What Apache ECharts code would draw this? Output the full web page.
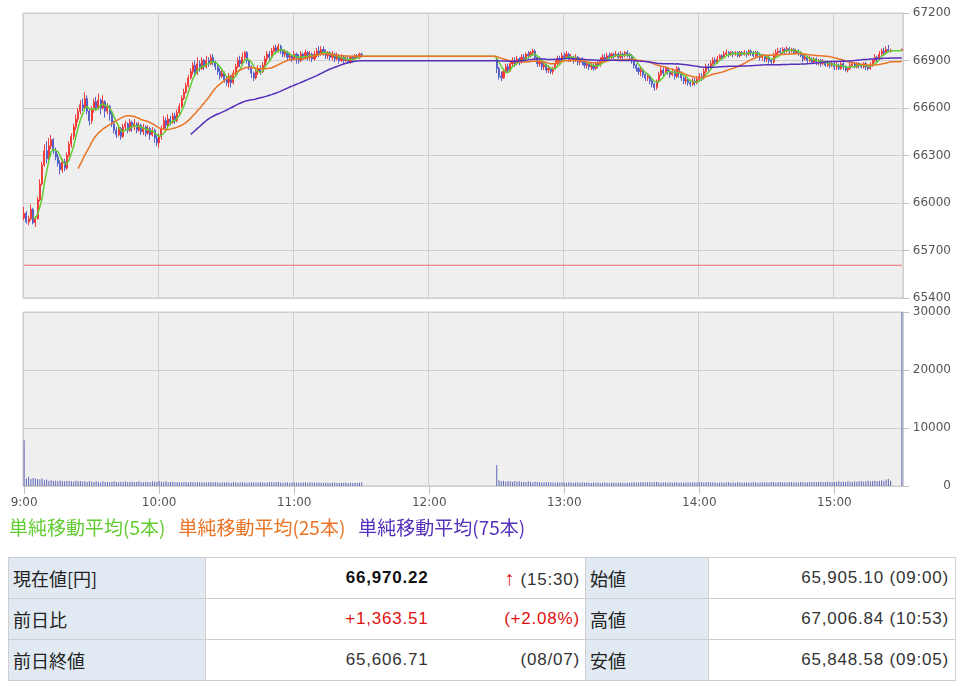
<!DOCTYPE html>
<html>
<head>
<meta charset="utf-8">
<script src="https://cdn.jsdelivr.net/npm/echarts@6/dist/echarts.min.js"></script>
<style>
html,body{margin:0;padding:0;background:#fff;width:960px;height:686px;overflow:hidden;}
#chart{position:absolute;left:0;top:0;width:960px;height:550px;}
#info{position:absolute;left:8px;top:557px;width:947px;border-collapse:collapse;table-layout:fixed;}
#info td{height:40px;border-top:1px solid #cfcfcf;border-bottom:1px solid #cfcfcf;padding:0;
  font-family:'Liberation Sans',Arial,sans-serif;font-size:17px;letter-spacing:0.8px;color:#333;white-space:nowrap;}
#info td.lb{background:#e1eaf2;font-family:'Noto Sans CJK JP',sans-serif;font-size:18px;letter-spacing:0;
  padding-left:4px;border-left:1px solid #cfcfcf;border-right:1px solid #cfcfcf;color:#222;}
#info td.v1{text-align:right;padding-right:12px;}
#info td.v2{text-align:right;padding-right:5px;}
#info td.v3{text-align:right;padding-right:6px;border-right:1px solid #cfcfcf;}
#info .red{color:#dd1111;}
#info .arrow{color:#dd1111;font-size:20px;}
#info b{color:#111;}
</style>
</head>
<body>
<div id="chart"></div>
<table id="info">
<colgroup><col style="width:197px"><col style="width:235px"><col style="width:145px"><col style="width:123px"><col style="width:247px"></colgroup>
<tbody id="infoBody"></tbody>
</table>
<script>
// ---- data ----
const dayStart = '9:00';
const pmStart = '12:30';
const closeTime = '15:30';
const prevClose = 65606.71;
const priceTicks = [65400, 67200, 300];
const volumeTicks = [0, 30000, 10000];
const maNames = ['単純移動平均(5本)', '単純移動平均(25本)', '単純移動平均(75本)'];
const maPeriods = [5, 25, 75];
const maColors = ['#63cc33', '#ea7424', '#5530bb'];

// [open, close, low, high] per minute, 9:00 - 11:30
const amCandles = [
[65905,65935,65890,65975],[65935,65880,65870,65950],[65880,65900,65860,65920],[65900,65960,65890,65990],[65960,65875,65865,65970],
[65875,65900,65848.58,65915],[65900,66020,65895,66040],[66020,66120,66010,66150],[66120,66240,66110,66260],[66240,66330,66230,66370],
[66330,66280,66250,66390],[66280,66360,66270,66410],[66360,66400,66340,66430],[66400,66330,66310,66410],[66330,66290,66270,66350],
[66290,66250,66230,66310],[66250,66210,66180,66270],[66210,66260,66190,66280],[66260,66220,66200,66280],[66220,66300,66210,66320],
[66300,66370,66290,66390],[66370,66420,66350,66440],[66420,66480,66400,66500],[66480,66530,66460,66560],[66530,66580,66510,66600],
[66580,66620,66560,66650],[66620,66600,66580,66660],[66600,66660,66590,66700],[66660,66580,66560,66680],[66580,66520,66490,66600],
[66520,66590,66500,66610],[66590,66640,66570,66660],[66640,66600,66580,66670],[66600,66650,66590,66690],[66650,66600,66560,66660],
[66600,66640,66590,66680],[66640,66580,66540,66650],[66580,66610,66560,66630],[66610,66560,66520,66620],[66560,66500,66480,66580],
[66500,66460,66440,66520],[66460,66430,66410,66480],[66430,66470,66420,66490],[66470,66420,66400,66480],[66420,66480,66410,66500],
[66480,66500,66460,66520],[66500,66460,66440,66510],[66460,66510,66450,66530],[66510,66480,66450,66520],[66480,66500,66460,66530],
[66500,66460,66440,66510],[66460,66490,66450,66510],[66490,66450,66430,66500],[66450,66480,66430,66500],[66480,66440,66420,66490],
[66440,66470,66430,66490],[66470,66430,66400,66480],[66430,66460,66420,66480],[66460,66410,66380,66470],[66410,66380,66360,66430],
[66380,66420,66350,66440],[66420,66470,66400,66490],[66470,66520,66460,66550],[66520,66490,66470,66540],[66490,66530,66480,66560],
[66530,66510,66490,66550],[66510,66550,66500,66570],[66550,66520,66500,66570],[66520,66570,66510,66590],[66570,66610,66560,66630],
[66610,66660,66600,66680],[66660,66700,66650,66720],[66700,66740,66690,66760],[66740,66790,66730,66810],[66790,66830,66780,66850],
[66830,66870,66810,66890],[66870,66820,66800,66900],[66820,66880,66810,66920],[66880,66850,66830,66900],[66850,66900,66840,66920],
[66900,66860,66840,66910],[66860,66900,66850,66930],[66900,66880,66860,66920],[66880,66920,66870,66940],[66920,66890,66870,66940],
[66890,66860,66840,66900],[66860,66830,66810,66880],[66830,66800,66780,66850],[66800,66820,66790,66850],[66820,66780,66760,66830],
[66780,66760,66740,66800],[66760,66800,66730,66820],[66800,66760,66730,66810],[66760,66820,66750,66840],[66820,66860,66800,66880],
[66860,66900,66850,66920],[66900,66880,66860,66930],[66880,66920,66870,66950],[66920,66950,66900,66960],[66950,66900,66880,66960],
[66900,66860,66840,66910],[66860,66820,66790,66870],[66820,66790,66770,66830],[66790,66830,66780,66850],[66830,66850,66810,66870],
[66850,66830,66810,66870],[66830,66870,66820,66890],[66870,66910,66860,66930],[66910,66940,66890,66960],[66940,66920,66900,66960],
[66920,66960,66910,66980],[66960,66980,66950,66995],[66980,66960,66940,67000],[66960,66990,66950,67006.84],[66990,66960,66940,67000],
[66960,66940,66920,66970],[66940,66950,66920,66970],[66950,66920,66900,66960],[66920,66930,66900,66950],[66930,66910,66890,66940],
[66910,66940,66900,66960],[66940,66920,66880,66950],[66920,66900,66880,66940],[66900,66940,66890,66960],[66940,66920,66900,66950],
[66920,66950,66910,66970],[66950,66920,66900,66960],[66920,66940,66900,66960],[66940,66910,66890,66950],[66910,66940,66900,66960],
[66940,66960,66920,66980],[66960,66940,66920,66990],[66940,66970,66930,66990],[66970,66950,66930,66990],[66950,66930,66910,66970],
[66930,66950,66910,66960],[66950,66920,66900,66960],[66920,66940,66900,66960],[66940,66910,66890,66950],[66910,66930,66900,66950],
[66930,66900,66880,66940],[66900,66920,66890,66940],[66920,66900,66880,66930],[66900,66910,66890,66930],[66910,66890,66880,66930],
[66890,66920,66880,66930],[66920,66910,66890,66930],[66910,66930,66900,66940],[66930,66920,66910,66940],[66920,66940,66910,66950],
[66940,66935,66920,66950]
];

// [open, close, low, high] per minute, 12:30 - 15:25
const pmCandles = [
[66910,66850,66820,66915],[66850,66800,66780,66860],[66800,66790,66770,66830],[66790,66830,66785,66850],[66830,66860,66820,66880],
[66860,66840,66820,66880],[66840,66880,66830,66900],[66880,66900,66860,66920],[66900,66880,66860,66920],[66880,66910,66870,66930],
[66910,66890,66870,66920],[66890,66920,66880,66940],[66920,66910,66890,66940],[66910,66940,66900,66950],[66940,66930,66910,66960],
[66930,66950,66920,66960],[66950,66960,66930,66975],[66960,66920,66900,66970],[66920,66880,66860,66930],[66880,66890,66860,66910],
[66890,66860,66840,66900],[66860,66870,66840,66890],[66870,66840,66820,66880],[66840,66850,66820,66870],[66850,66830,66815,66860],
[66830,66850,66812,66860],[66850,66880,66840,66900],[66880,66910,66870,66930],[66910,66900,66880,66930],[66900,66930,66890,66950],
[66930,66920,66900,66950],[66920,66940,66910,66960],[66940,66910,66890,66950],[66910,66920,66890,66940],[66920,66900,66880,66930],
[66900,66920,66890,66940],[66920,66890,66870,66930],[66890,66910,66870,66920],[66910,66890,66870,66920],[66890,66870,66850,66900],
[66870,66880,66850,66900],[66880,66860,66840,66890],[66860,66870,66840,66890],[66870,66850,66835,66880],[66850,66880,66840,66890],
[66880,66870,66850,66900],[66870,66900,66860,66920],[66900,66920,66890,66940],[66920,66910,66890,66940],[66910,66930,66900,66950],
[66930,66920,66900,66950],[66920,66940,66910,66950],[66940,66930,66910,66950],[66930,66940,66920,66960],[66940,66920,66910,66950],
[66920,66940,66910,66960],[66940,66930,66910,66950],[66930,66950,66920,66960],[66950,66940,66920,66965],[66940,66930,66910,66950],
[66930,66900,66880,66940],[66900,66870,66850,66910],[66870,66850,66830,66880],[66850,66830,66810,66860],[66830,66840,66800,66860],
[66840,66810,66790,66850],[66810,66790,66770,66820],[66790,66800,66770,66820],[66800,66770,66750,66810],[66770,66750,66730,66780],
[66750,66730,66710,66760],[66730,66770,66715,66780],[66770,66810,66760,66830],[66810,66840,66800,66860],[66840,66820,66800,66860],
[66820,66850,66810,66865],[66850,66830,66810,66860],[66830,66810,66790,66840],[66810,66830,66800,66850],[66830,66800,66780,66840],
[66800,66850,66790,66865],[66850,66820,66790,66860],[66820,66790,66770,66830],[66790,66770,66750,66800],[66770,66780,66750,66800],
[66780,66760,66740,66790],[66760,66750,66735,66780],[66750,66770,66740,66790],[66770,66760,66740,66790],[66760,66780,66750,66800],
[66780,66800,66770,66820],[66800,66790,66770,66820],[66790,66830,66780,66850],[66830,66860,66820,66880],[66860,66850,66830,66880],
[66850,66880,66840,66900],[66880,66900,66870,66920],[66900,66890,66870,66920],[66890,66910,66880,66930],[66910,66930,66900,66940],
[66930,66920,66900,66940],[66920,66940,66910,66960],[66940,66950,66930,66970],[66950,66940,66920,66960],[66940,66950,66930,66960],
[66950,66940,66920,66960],[66940,66950,66930,66960],[66950,66930,66920,66960],[66930,66950,66920,66960],[66950,66940,66930,66960],
[66940,66950,66930,66965],[66950,66940,66920,66960],[66940,66960,66930,66970],[66960,66950,66930,66970],[66950,66930,66920,66960],
[66930,66950,66920,66960],[66950,66940,66920,66960],[66940,66920,66900,66950],[66920,66930,66900,66940],[66930,66910,66890,66940],
[66910,66920,66890,66930],[66920,66900,66880,66930],[66900,66890,66870,66910],[66890,66930,66880,66950],[66930,66950,66920,66970],
[66950,66960,66940,66980],[66960,66950,66940,66980],[66950,66970,66940,66985],[66970,66960,66940,66980],[66960,66975,66950,66990],
[66975,66960,66940,66985],[66960,66970,66950,66980],[66970,66950,66940,66980],[66950,66960,66940,66975],[66960,66950,66930,66970],
[66950,66930,66920,66960],[66930,66910,66890,66940],[66910,66920,66900,66940],[66920,66900,66880,66930],[66900,66910,66890,66930],
[66910,66890,66880,66920],[66890,66910,66880,66920],[66910,66890,66870,66920],[66890,66900,66870,66910],[66900,66880,66860,66910],
[66880,66890,66870,66910],[66890,66870,66860,66900],[66870,66880,66860,66900],[66880,66870,66850,66890],[66870,66880,66860,66900],
[66880,66860,66840,66890],[66860,66870,66840,66890],[66870,66850,66840,66880],[66850,66880,66840,66890],[66880,66860,66840,66890],
[66860,66840,66830,66870],[66840,66850,66825,66860],[66850,66870,66840,66890],[66870,66880,66860,66890],[66880,66860,66850,66890],
[66860,66880,66850,66890],[66880,66870,66850,66890],[66870,66860,66850,66880],[66860,66880,66850,66890],[66880,66860,66840,66890],
[66860,66850,66835,66870],[66850,66870,66840,66890],[66870,66900,66860,66910],[66900,66920,66890,66940],[66920,66910,66890,66930],
[66910,66940,66900,66960],[66940,66960,66930,66975],[66960,66950,66940,66980],[66950,66970,66940,66990],[66970,66960,66950,66998],
[66960,66965,66950,66975]
];

// closing auction candle at 15:30
const closeCandle = [66965, 66970.22, 66960, 66975];

// volume per minute
const amVolume = [7900,
1300,1600,1200,1400,1300,1200,1100,1300,1000,1100,
900,1000,850,900,800,950,850,800,900,850,
800,750,900,800,850,750,800,700,850,750,
700,800,750,650,800,700,750,650,700,800,
700,650,750,700,800,650,700,750,650,700,
800,700,650,750,700,650,800,700,750,850,
750,700,800,650,700,750,650,700,650,600,
700,650,600,700,650,600,650,700,600,650,
600,650,700,600,650,600,550,650,600,650,
600,550,650,600,550,600,650,600,550,600,
650,600,550,600,650,600,550,600,650,700,
600,650,700,600,550,600,650,550,600,650,
550,600,550,600,650,550,600,550,600,550,
600,550,500,600,550,500,550,600,500,550,
500,550,600,500,550,500,550,500,550,600];
const pmVolume = [
3600,1000,800,900,750,850,800,700,850,750,
800,700,750,650,800,700,650,750,700,650,
600,650,700,600,650,600,550,650,600,650,
600,550,650,600,550,600,650,550,600,550,
600,550,500,600,550,600,500,550,600,550,
500,550,600,500,550,600,550,500,600,550,
600,650,550,600,650,700,600,650,700,600,
650,700,600,550,600,650,550,600,550,600,
650,550,600,550,600,650,550,600,650,600,
650,700,600,650,700,600,650,600,550,600,
650,550,600,650,550,600,550,650,600,550,
600,650,550,600,650,600,550,600,650,600,
650,600,700,650,600,650,700,600,650,600,
650,700,600,650,600,700,650,600,650,700,
650,700,650,750,700,650,700,750,700,650,
700,750,800,700,750,700,800,750,700,800,
750,800,850,750,800,900,800,850,900,800,
900,1000,850,1100,1200,900];
const closeVolume = 30000;

// summary table
const infoRows = [
  ['現在値[円]', '<b>66,970.22</b>', '<span class="arrow">↑</span> (15:30)', '始値', '65,905.10 (09:00)'],
  ['前日比', '<span class="red">+1,363.51</span>', '<span class="red">(+2.08%)</span>', '高値', '67,006.84 (10:53)'],
  ['前日終値', '65,606.71', '(08/07)', '安値', '65,848.58 (09:05)']
];

// ---- build ----
function toMin(t){const p=t.split(':');return (+p[0])*60+(+p[1]);}
const times = [];
for (let m = toMin(dayStart); m <= toMin(closeTime); m++) {
  times.push(Math.floor(m/60) + ':' + String(m%60).padStart(2,'0'));
}
const N = times.length;
const candles = new Array(N).fill('-');
const volumes = new Array(N).fill('-');
const amIdx = times.indexOf(dayStart), pmIdx = times.indexOf(pmStart), clIdx = times.indexOf(closeTime);
amCandles.forEach((c,i)=>{candles[amIdx+i]=c;});
pmCandles.forEach((c,i)=>{candles[pmIdx+i]=c;});
candles[clIdx] = closeCandle;
amVolume.forEach((v,i)=>{volumes[amIdx+i]=v;});
pmVolume.forEach((v,i)=>{volumes[pmIdx+i]=v;});
volumes[clIdx] = closeVolume;
const prevCloseLine = times.map(() => prevClose);

function movingAverage(n){
  const out=[]; const closes=[]; let last='-';
  for (let i=0;i<N;i++){
    const c=candles[i];
    if (c!=='-'){
      closes.push(c[1]);
      if (closes.length>=n){
        let s=0; for (let k=closes.length-n;k<closes.length;k++) s+=closes[k];
        last=+(s/n).toFixed(2);
      }
    }
    out.push(last);
  }
  return out;
}

const hourOnly = (idx, val) => /:00$/.test(val);
const gridStyle = {show:true, backgroundColor:'#efefef', borderColor:'#c6c6c6', borderWidth:1};
const axisFont = {color:'#555', fontSize:12, fontFamily:'DejaVu Sans'};
const plain = v => String(v);

const maSeries = maPeriods.map((p,k)=>({
  name: maNames[k], type:'line', xAxisIndex:0, yAxisIndex:0,
  data: movingAverage(p), showSymbol:false, symbol:'none',
  lineStyle:{color:maColors[k], width:1.5}, itemStyle:{color:maColors[k]},
  z: 5 + k, silent:true
}));

const option = {
  animation:false,
  backgroundColor:'#ffffff',
  grid:[
    Object.assign({left:23, right:57, top:13, height:285}, gridStyle),
    Object.assign({left:23, right:57, top:312, height:174}, gridStyle)
  ],
  legend:{
    left:4, top:518, padding:[0,0,0,0], icon:'none', itemWidth:0, itemHeight:19, itemGap:8, selectedMode:false,
    textStyle:{fontSize:19, fontFamily:'Noto Sans CJK JP'},
    data: maNames.map((n,k)=>({name:n, textStyle:{color:maColors[k]}}))
  },
  xAxis:[
    {type:'category', gridIndex:0, data:times, boundaryGap:true,
     axisLine:{show:false}, axisTick:{show:false}, axisLabel:{show:false},
     splitLine:{show:true, interval:hourOnly, lineStyle:{color:'#cfcfcf', width:1}}},
    {type:'category', gridIndex:1, data:times, boundaryGap:true,
     axisLine:{show:false},
     axisTick:{show:true, interval:hourOnly, alignWithLabel:true, length:8, lineStyle:{color:'#c0c0c0'}},
     axisLabel:Object.assign({show:true, interval:hourOnly, margin:11}, axisFont),
     splitLine:{show:true, interval:hourOnly, lineStyle:{color:'#cfcfcf', width:1}}}
  ],
  yAxis:[
    {type:'value', gridIndex:0, position:'right', min:priceTicks[0], max:priceTicks[1], interval:priceTicks[2],
     axisLine:{show:false}, axisTick:{show:true, length:6, lineStyle:{color:'#c0c0c0'}},
     axisLabel:Object.assign({align:'right', margin:48, formatter:plain}, axisFont),
     splitLine:{show:true, lineStyle:{color:'#cfcfcf', width:1}}},
    {type:'value', gridIndex:1, position:'right', min:volumeTicks[0], max:volumeTicks[1], interval:volumeTicks[2],
     axisLine:{show:false}, axisTick:{show:true, length:6, lineStyle:{color:'#c0c0c0'}},
     axisLabel:Object.assign({align:'right', margin:48, formatter:plain}, axisFont),
     splitLine:{show:true, lineStyle:{color:'#cfcfcf', width:1}}}
  ],
  series:[
    {name:'前日終値', type:'line', xAxisIndex:0, yAxisIndex:0, data:prevCloseLine, silent:true,
     showSymbol:false, symbol:'none', lineStyle:{color:'#ea6a6a', width:1.2}, itemStyle:{color:'#ea6a6a'}, z:1},
    {name:'株価', type:'candlestick', xAxisIndex:0, yAxisIndex:0, data:candles, barWidth:1.6,
     itemStyle:{color:'#f23c3c', color0:'#5560c8', borderColor:'#f23c3c', borderColor0:'#5560c8', borderWidth:1},
     z:2},
    ...maSeries,
    {name:'出来高', type:'bar', xAxisIndex:1, yAxisIndex:1, data:volumes, barWidth:1,
     itemStyle:{color:'#5f66b8'}, silent:true}
  ]
};

const chart = echarts.init(document.getElementById('chart'), null, {renderer:'canvas'});
chart.setOption(option);

const tb = document.getElementById('infoBody');
infoRows.forEach(r=>{
  const tr=document.createElement('tr');
  const cls=['lb','v1','v2','lb','v3'];
  r.forEach((txt,k)=>{const td=document.createElement('td'); td.className=cls[k]; td.innerHTML=txt; tr.appendChild(td);});
  tb.appendChild(tr);
});
</script>
</body>
</html>
